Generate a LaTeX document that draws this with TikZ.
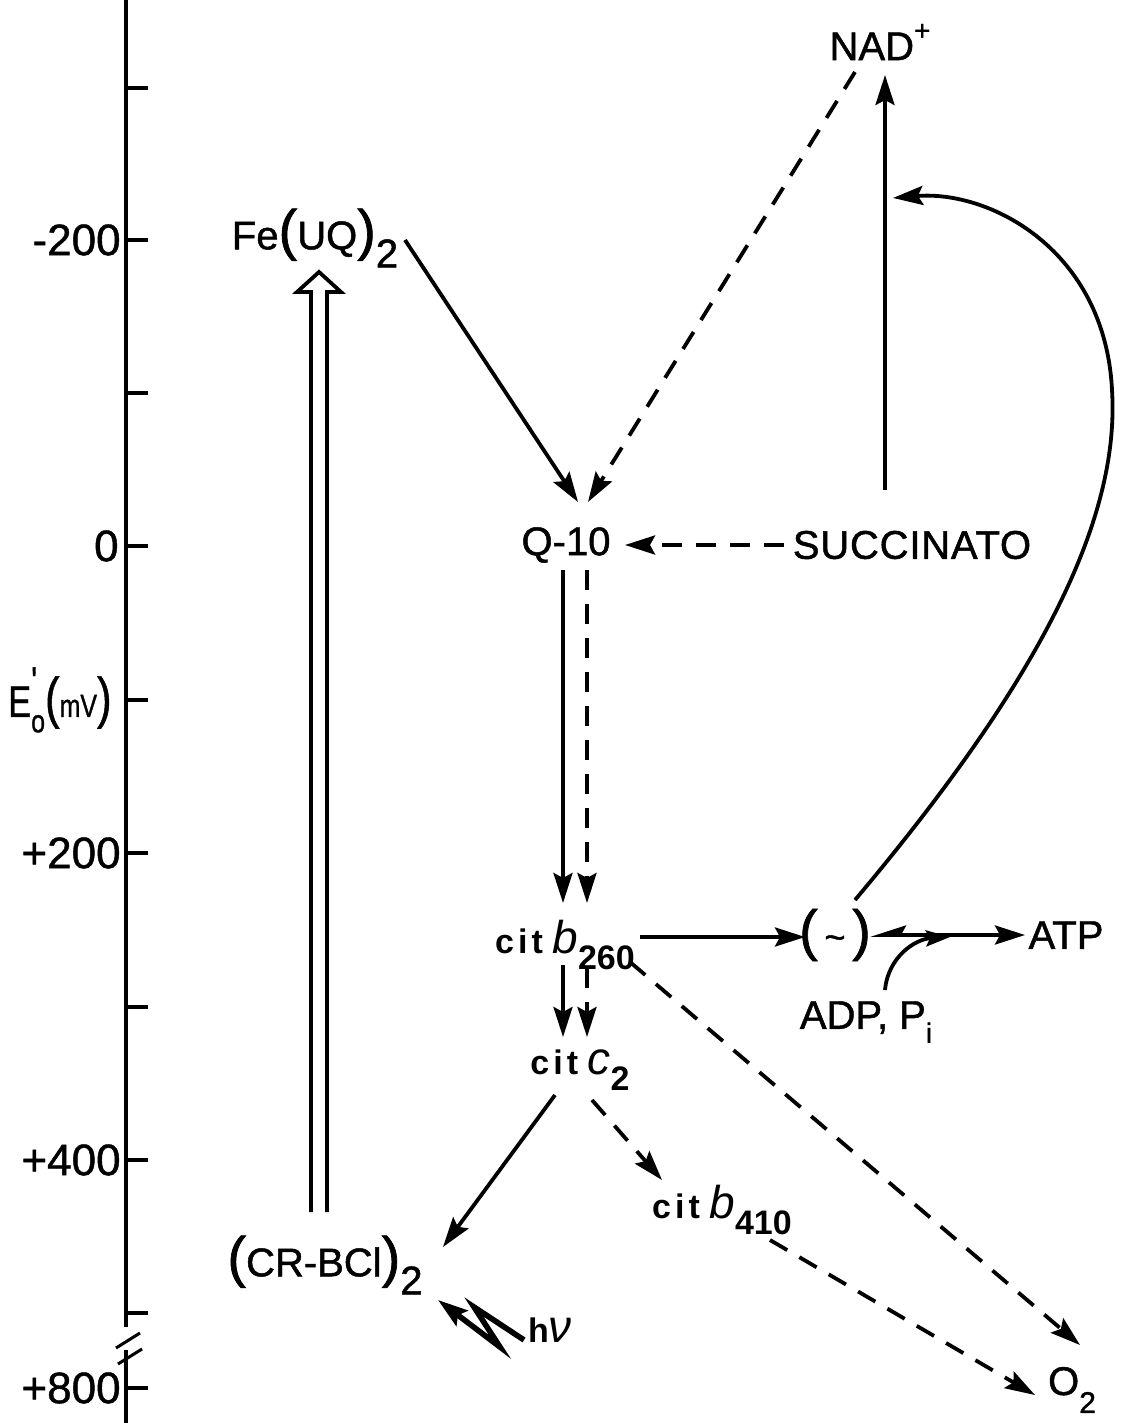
\documentclass[tikz,border=0pt]{standalone}
\usepackage{fontspec}
\setmainfont{Liberation Sans}
\usetikzlibrary{arrows.meta,calc}

\tikzset{
  lbl/.style={inner sep=0pt, font=\fontsize{20}{22}\selectfont\addfontfeature{FakeBold=1.2}},
  cit/.style={inner sep=0pt, font=\fontsize{17}{20}\selectfont\bfseries},
  axlbl/.style={anchor=east, inner sep=0pt, font=\fontsize{22}{24}\selectfont\addfontfeature{FakeBold=1}},
  arr/.style={line width=1.9pt, -{Stealth[length=15pt,width=9.5pt,inset=2.5pt]}},
  darr/.style={arr, dash pattern=on 10pt off 7pt},
}
\newcommand{\bigpar}[1]{{\fontsize{28}{28}\selectfont #1}}
\newcommand{\lowsub}[1]{\raisebox{-0.45em}{#1}}

\begin{document}
\begin{tikzpicture}[x=0.5pt,y=-0.5pt]
\useasboundingbox (0,0) rectangle (1122,1423);

% potential axis
\draw[line width=1.8pt] (126,0) -- (126,1327) (126,1350) -- (126,1423);
\foreach \y in {88,240,393,546,700,853,1007,1160,1313,1388}
  \draw[line width=1.8pt] (126,\y) -- (148,\y);
\draw[line width=1.5pt] (116,1348) -- (140,1333) (118,1364) -- (142,1349);
\node[axlbl] at (121,240) {-200};
\node[axlbl] at (119,546) {0};
\node[axlbl] at (121,853) {+200};
\node[axlbl] at (121,1160) {+400};
\node[axlbl] at (121,1388) {+800};
\node[axlbl] (eaxis) at (112,700) {\scalebox{0.78}[1]{E\rlap{\raisebox{0.5em}{\fontsize{20}{20}\selectfont\textquotesingle}}\raisebox{-0.35em}{\fontsize{16}{16}\selectfont o}\bigpar{(}{\fontsize{16}{16}\selectfont mV}\bigpar{)}}};

% carriers
\node[lbl] (feuq) at (315,238) {Fe\bigpar{(}UQ\bigpar{)}\lowsub{2}};
\node[lbl] (nad) at (880,42) {NAD\raisebox{0.5em}{\fontsize{14}{14}\selectfont +}};
\node[lbl] (qten) at (566,545) {Q-10};
\node[lbl] (succ) at (912,545) {\addfontfeature{LetterSpace=2}SUCCINATO};
\node[cit] (bcit) at (565,945) {{\addfontfeature{LetterSpace=12}cit} {\fontsize{23}{23}\selectfont\itshape\mdseries b}\lowsub{260}};
\node[lbl] (tilde) at (835,935) {\bigpar{(}\,{\fontsize{18}{18}\selectfont\textasciitilde}\,\bigpar{)}};
\node[lbl] (atp) at (1066,935) {ATP};
\node[lbl] (adp) at (866,1022) {ADP, P\raisebox{-0.35em}{\fontsize{14}{14}\selectfont i}};
\node[cit] (ccit) at (580,1070) {{\addfontfeature{LetterSpace=12}cit} {\fontsize{23}{23}\selectfont\itshape\mdseries c}\lowsub{2}};
\node[cit] (bfour) at (722,1210) {{\addfontfeature{LetterSpace=12}cit} {\fontsize{23}{23}\selectfont\itshape\mdseries b}\lowsub{410}};
\node[lbl] (crbcl) at (325,1265) {\bigpar{(}CR-BCl\bigpar{)}\lowsub{2}};
\node[cit] (hv) at (550,1330) {h{\fontsize{23}{23}\selectfont\itshape\mdseries ν}};
\node[lbl] (otwo) at (1072,1390) {O\lowsub{\fontsize{15}{15}\selectfont 2}};

\coordinate (nadin) at ($(nad)+(13,156)$);
\coordinate (merge) at ($(tilde)+(115,2)$);

% electron flow
\draw[arr] ($(feuq)+(90,2)$) -- ($(qten)+(12,-43)$);
\draw[darr] ($(nad)+(-25,30)$) -- ($(qten)+(22,-43)$);
\draw[arr] ($(succ)+(-27,-55)$) -- ($(nad)+(5,33)$);
\draw[darr] ($(succ)+(-128,0)$) -- ($(qten)+(59,0)$);
\draw[arr] ($(qten)+(-3,25)$) -- ($(bcit)+(-2,-42)$);
\draw[darr] ($(qten)+(21,25)$) -- ($(bcit)+(22,-42)$);
\draw[arr] ($(bcit)+(-2,20)$) -- ($(ccit)+(-17,-33)$);
\draw[darr] ($(bcit)+(22,23)$) -- ($(ccit)+(7,-33)$);
\draw[arr] ($(bcit)+(75,-8)$) -- ($(tilde)+(-30,2)$);
\draw[darr] ($(bcit)+(65,17)$) -- ($(otwo)+(8,-45)$);
\draw[darr] ($(ccit)+(12,30)$) -- ($(bfour)+(-60,-30)$);
\draw[darr] ($(bfour)+(48,30)$) -- ($(otwo)+(-37,5)$);
\draw[arr] ($(ccit)+(-25,25)$) -- ($(crbcl)+(118,-18)$);

% energy coupling
\draw[arr] ($(tilde)+(20,-35)$) .. controls (1040,680) and (1120,520) .. (1112,390)
  .. controls (1105,250) and (990,190) .. (nadin);
\draw[line width=1.9pt, {Stealth[harpoon,swap,length=15pt,width=9.5pt,inset=2.5pt]}-{Stealth[length=15pt,width=9.5pt,inset=2.5pt]}] ($(tilde)+(35,0)$) -- ($(atp)+(-41,0)$);
\draw[arr, -{Stealth[length=12pt,width=8pt,inset=2pt]}] ($(adp)+(19,-32)$) .. controls ($(adp)+(22,-65)$) and ($(merge)+(-35,2)$) .. (merge);

% light
\draw[arr, line width=2.8pt, line join=miter] ($(hv)+(-26,10)$) -- ($(hv)+(-76,-23)$) -- ($(hv)+(-50,17)$) -- ($(crbcl)+(113,35)$);

% reverse transfer
\draw[line width=1.9pt, line join=miter] ($(crbcl)+(-14,-53)$) -- ($(feuq)+(-4,54)$) -- ($(feuq)+(-18,54)$)
  -- ($(feuq)+(4,34)$) -- ($(feuq)+(26,54)$) -- ($(feuq)+(12,54)$) -- ($(crbcl)+(2,-53)$);
\end{tikzpicture}
\end{document}
